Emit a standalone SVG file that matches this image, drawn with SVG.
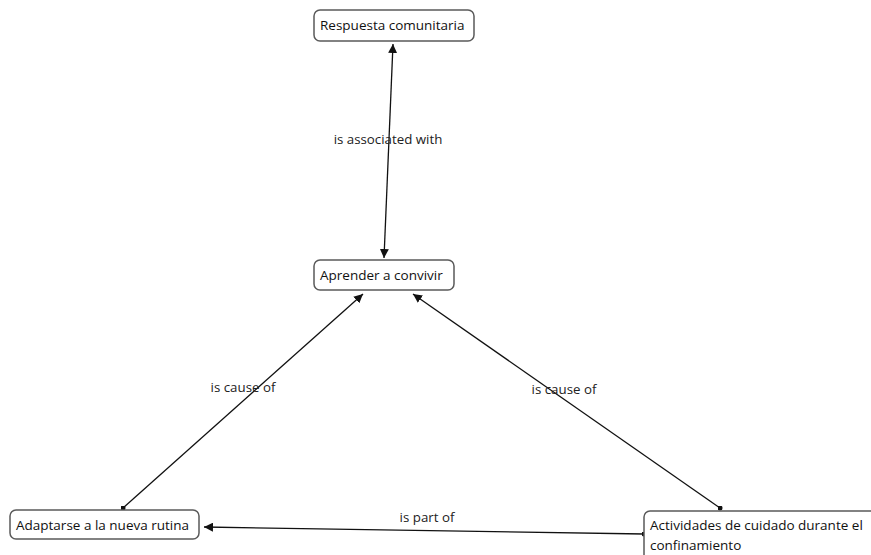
<svg xmlns="http://www.w3.org/2000/svg" width="871" height="555" viewBox="0 0 871 555">
<defs>
<style>
.box{fill:#fff;stroke:#5a5a5a;stroke-width:1.5}
.t{font-family:"Open Sans","Noto Sans",sans-serif;font-size:13.5px;fill:#111}
.lbl{font-family:"Open Sans","Noto Sans",sans-serif;font-size:13.3px;fill:#222;text-anchor:middle}
.ln{stroke:#111;stroke-width:1.3;fill:none}
</style>
<marker id="ah" viewBox="0 0 10 10" refX="10" refY="5" markerWidth="9" markerHeight="9" markerUnits="userSpaceOnUse" orient="auto-start-reverse">
<path d="M0,0 L10,5 L0,10 z" fill="#111"/>
</marker>
<marker id="dot" viewBox="0 0 6 6" refX="3" refY="3" markerWidth="5" markerHeight="5" markerUnits="userSpaceOnUse">
<circle cx="3" cy="3" r="3" fill="#111"/>
</marker>
</defs>
<rect width="871" height="555" fill="#fff"/>
<g id="connectors">
<line class="ln" x1="393" y1="44" x2="384" y2="258" marker-start="url(#ah)" marker-end="url(#ah)"/>
<line class="ln" x1="123" y1="508" x2="363" y2="294" marker-start="url(#dot)" marker-end="url(#ah)"/>
<line class="ln" x1="720" y1="508" x2="413" y2="294" marker-start="url(#dot)" marker-end="url(#ah)"/>
<line class="ln" x1="644" y1="534" x2="204" y2="527" marker-start="url(#dot)" marker-end="url(#ah)"/>
<text class="lbl" x="388" y="144">is associated with</text>
<text class="lbl" x="243" y="392">is cause of</text>
<text class="lbl" x="564" y="394">is cause of</text>
<text class="lbl" x="427" y="522">is part of</text>
</g>
<g id="n1">
<rect class="box" x="314" y="10" width="160" height="31" rx="6"/>
<text class="t" x="320" y="30">Respuesta comunitaria</text>
</g>
<g id="n2">
<rect class="box" x="314" y="260" width="140" height="30" rx="6"/>
<text class="t" x="320" y="280">Aprender a convivir</text>
</g>
<g id="n3">
<rect class="box" x="10" y="510" width="189" height="29" rx="6"/>
<text class="t" x="16" y="530">Adaptarse a la nueva rutina</text>
</g>
<g id="n4">
<rect class="box" x="644" y="511" width="240" height="60" rx="6"/>
<text class="t" x="650" y="530">Actividades de cuidado durante el</text>
<text class="t" x="650" y="550">confinamiento</text>
</g>
</svg>
